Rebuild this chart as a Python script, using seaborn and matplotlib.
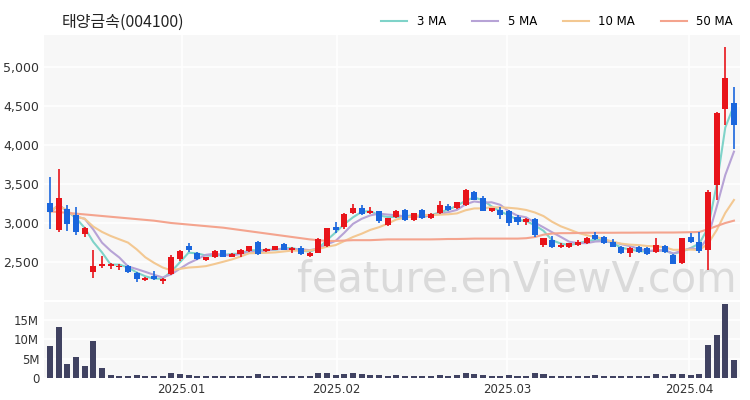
import matplotlib
matplotlib.use("Agg")
import matplotlib.pyplot as plt
import seaborn as sns
import numpy as np
import pandas as pd
from matplotlib.ticker import FuncFormatter

opens = [3256,2910,3180,3100,2860,2370,2450,2450,2430,2450,2360,2270,2320,2260,2350,2540,2700,2620,2520,2560,
         2650,2570,2600,2640,2760,2640,2660,2730,2660,2680,2580,2620,2700,2950,2950,3130,3190,3130,3150,2980,
         3080,3167,3038,3167,3060,3124,3222,3188,3231,3402,3316,3158,3167,3158,3081,3017,3051,2718,2782,2688,
         2688,2718,2740,2846,2816,2761,2697,2611,2688,2675,2632,2705,2590,2483,2825,2761,2654,3487,4457,4543]
closes = [3141,3320,2990,2880,2940,2450,2480,2470,2450,2370,2280,2300,2280,2280,2570,2640,2650,2540,2560,2640,
          2570,2600,2650,2700,2600,2670,2700,2660,2680,2600,2620,2800,2930,2910,3120,3190,3120,3150,3020,3060,
          3150,3038,3124,3060,3115,3231,3167,3265,3423,3295,3158,3188,3103,3004,3017,3051,2846,2803,2688,2718,
          2740,2761,2803,2791,2740,2697,2611,2675,2632,2598,2718,2624,2474,2803,2761,2645,3402,4415,4855,4256]
highs = [3594,3690,3230,3200,2950,2650,2580,2490,2480,2460,2370,2310,2380,2300,2590,2650,2740,2630,2570,2650,
         2660,2610,2670,2710,2770,2680,2710,2740,2690,2700,2630,2810,2940,3010,3130,3240,3230,3200,3160,3070,
         3170,3180,3130,3180,3130,3280,3240,3270,3430,3410,3350,3190,3210,3170,3100,3060,3070,2810,2830,2740,
         2750,2780,2820,2880,2830,2790,2710,2690,2710,2690,2803,2720,2600,2810,2870,2880,3420,4420,5250,4739]
lows = [2920,2880,2900,2840,2820,2300,2420,2410,2400,2360,2250,2260,2270,2220,2330,2510,2630,2530,2510,2550,
        2560,2560,2570,2630,2590,2630,2650,2650,2620,2590,2560,2610,2690,2870,2920,3120,3100,3110,3000,2960,
        3070,3020,3030,3050,3050,3110,3160,3180,3220,3290,3150,3140,3050,2960,2980,2970,2820,2690,2680,2680,
        2680,2710,2730,2780,2730,2690,2600,2560,2620,2590,2620,2610,2470,2480,2740,2620,2397,3300,4250,3944]
volumes_m = [8.2,13.0,3.5,5.5,3.0,9.5,2.5,0.8,0.6,0.5,0.8,0.5,0.5,0.6,1.3,1.0,0.8,0.5,0.4,0.5,
             0.6,0.4,0.5,0.6,0.9,0.4,0.5,0.6,0.4,0.5,0.5,1.2,1.3,0.8,1.0,1.2,0.9,0.8,0.7,0.6,
             0.7,0.5,0.6,0.5,0.6,0.8,0.5,0.7,1.4,0.9,0.7,0.5,0.6,0.8,0.6,0.5,1.2,0.9,0.6,0.5,
             0.5,0.5,0.6,0.7,0.5,0.5,0.6,0.5,0.4,0.5,0.9,0.5,0.9,1.0,0.8,0.9,8.5,11.0,19.0,4.5]
ma50 = [3150,3140,3130,3120,3110,3100,3090,3080,3070,3060,3050,3040,3030,3015,3000,2990,2980,2970,2960,2950,
        2940,2925,2910,2895,2880,2865,2850,2835,2820,2805,2790,2780,2770,2770,2775,2780,2780,2780,2785,2790,
        2790,2790,2790,2790,2790,2792,2795,2795,2797,2800,2800,2800,2800,2800,2800,2805,2820,2850,2865,2870,
        2870,2872,2875,2875,2875,2875,2876,2876,2877,2877,2878,2878,2878,2880,2882,2885,2920,2960,3000,3030]
tick_pos = [15.2, 33.1, 52.8, 73.8]
tick_labels = ["2025.01", "2025.02", "2025.03", "2025.04"]
ma_windows = [3, 5, 10]
ma_colors = ["#7fd3c9", "#b7a3d6", "#f3c892", "#f4a48e"]

df = pd.DataFrame({"i": np.arange(len(closes)), "o": opens, "c": closes, "h": highs, "l": lows,
                   "v": np.array(volumes_m) * 1e6, "50 MA": ma50})
up = df.c >= df.o
RED, BLUE = "#e8141a", "#1a66dd"

fig = plt.figure(figsize=(7.5, 4), dpi=100)
ax = fig.add_axes([44/750, 1-300/400, 696/750, 265/400])
axv = fig.add_axes([44/750, 1-378/400, 696/750, 76/400], sharex=ax)
for a in (ax, axv):
    a.set_facecolor("#f7f7f7")
    for s in a.spines.values():
        s.set_visible(False)
    a.grid(True, color="white", linewidth=1.2)
    a.set_axisbelow(True)

for w, col in zip(ma_windows, ma_colors):
    df[f"{w} MA"] = df.c.rolling(w, min_periods=1).mean()
    sns.lineplot(x="i", y=f"{w} MA", data=df, ax=ax, color=col, linewidth=1.5, label=f"{w} MA", zorder=2)
sns.lineplot(x="i", y="50 MA", data=df, ax=ax, color=ma_colors[3], linewidth=1.5, label="50 MA", zorder=2)

colors = np.where(up, RED, BLUE)
ax.vlines(df.i, df.l, df.h, colors=colors, linewidth=1.2, zorder=3)
bottom = np.minimum(df.o, df.c)
height = np.maximum(np.abs(df.c - df.o), 8)
ax.bar(df.i, height, bottom=bottom, width=0.7, color=colors, zorder=4)

ax.set_ylim(2013, 5410)
ax.set_yticks([2500, 3000, 3500, 4000, 4500, 5000])
ax.yaxis.set_major_formatter(FuncFormatter(lambda v, p: f"{int(v):,}"))
ax.set_xlim(-0.7, 79.7)
ax.set_xlabel(""); ax.set_ylabel("")
ax.tick_params(axis="x", labelbottom=False, length=0)
ax.tick_params(axis="y", length=0, labelsize=9, colors="#333333")
ax.legend(loc="lower right", bbox_to_anchor=(1.0, 1.0), ncol=4, frameon=False, fontsize=8.5,
          handlelength=2.2, columnspacing=2.2, borderaxespad=0.2)
fig.text(62/750, 1-22/400, "태양금속(004100)", fontsize=11.5, family="Noto Sans CJK KR", va="center", color="#222222")
ax.text(0.995, 0.0, "feature.enViewV.com", transform=ax.transAxes, ha="right", va="bottom",
        fontsize=30, color="#dadada", zorder=1)

sns.barplot(x="i", y="v", data=df, ax=axv, color="#3b3d66", width=0.7, native_scale=True, zorder=3)
axv.set_ylim(0, 19.5e6)
axv.set_yticks([0, 5e6, 10e6, 15e6])
axv.yaxis.set_major_formatter(FuncFormatter(lambda v, p: "0" if v == 0 else f"{int(v/1e6)}M"))
axv.set_xticks(tick_pos)
axv.set_xticklabels(tick_labels)
axv.set_xlim(-0.7, 79.7)
axv.set_xlabel(""); axv.set_ylabel("")
axv.tick_params(length=0, labelsize=8.5, colors="#333333")
fig.savefig("out.png", dpi=100, facecolor="white")
